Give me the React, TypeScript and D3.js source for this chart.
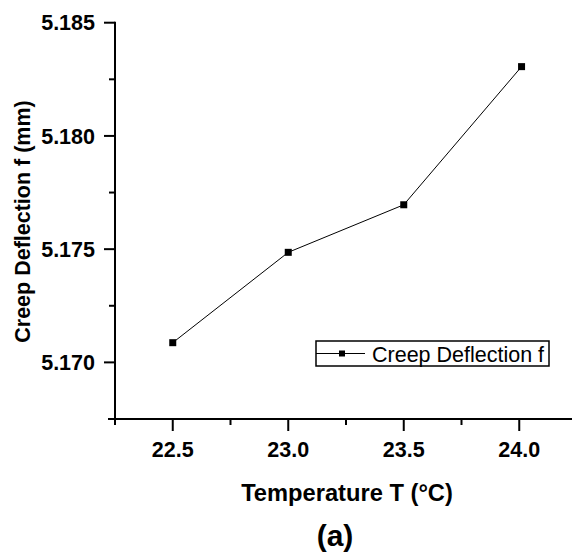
import React from "react";
import * as d3 from "d3";

const temperatures = [22.5, 23.0, 23.5, 24.01];
const deflections = [5.17087, 5.17486, 5.17696, 5.18306];
const xMajorTicks = [22.5, 23.0, 23.5, 24.0];
const xMinorTicks = [22.25, 22.75, 23.25, 23.75];
const yMajorTicks = [5.17, 5.175, 5.18, 5.185];
const yMinorTicks = [5.1725, 5.1775, 5.1825];
const seriesName = "Creep Deflection f";

const W = 572;
const H = 552;
const FONT = "'Liberation Sans', Arial, sans-serif";

export default function App() {
  const x = d3.scaleLinear().domain([22.25, 24.25]).range([115, 577]);
  const y = d3.scaleLinear().domain([5.1675, 5.185]).range([419, 22.7]);
  const line = d3
    .line<number>()
    .x((_, i) => x(temperatures[i]))
    .y((d) => y(d));
  const axisY = 419;
  const axisX = 115;
  const lx = 316;
  const ly = 341;
  return (
    <svg width={W} height={H} style={{ position: "absolute", left: 0, top: 0, background: "#fff" }}>
      <rect width={W} height={H} fill="#fff" />
      {/* y axis */}
      <line x1={axisX} x2={axisX} y1={y(5.185) - 1} y2={axisY + 1} stroke="#000" strokeWidth={2} />
      {yMajorTicks.map((t) => (
        <g key={"ym" + t}>
          <line x1={axisX - 11} x2={axisX} y1={y(t)} y2={y(t)} stroke="#000" strokeWidth={2} />
          <text x={95} y={y(t)} dy="0.36em" textAnchor="end" fontFamily={FONT} fontWeight="bold" fontSize={21.5}>
            {d3.format(".3f")(t)}
          </text>
        </g>
      ))}
      {yMinorTicks.map((t) => (
        <line key={"yn" + t} x1={axisX - 6} x2={axisX} y1={y(t)} y2={y(t)} stroke="#000" strokeWidth={2} />
      ))}
      {/* x axis */}
      <line x1={axisX - 7} x2={W} y1={axisY} y2={axisY} stroke="#000" strokeWidth={2} />
      {xMajorTicks.map((t) => (
        <g key={"xm" + t}>
          <line x1={x(t)} x2={x(t)} y1={axisY} y2={axisY + 12} stroke="#000" strokeWidth={2} />
          <text x={x(t)} y={449} dy="0.36em" textAnchor="middle" fontFamily={FONT} fontWeight="bold" fontSize={21.5}>
            {d3.format(".1f")(t)}
          </text>
        </g>
      ))}
      {xMinorTicks.map((t) => (
        <line key={"xn" + t} x1={x(t)} x2={x(t)} y1={axisY} y2={axisY + 6} stroke="#000" strokeWidth={2} />
      ))}
      {/* titles */}
      <text x={347} y={492} dy="0.36em" textAnchor="middle" fontFamily={FONT} fontWeight="bold" fontSize={23.7}>
        Temperature T (°C)
      </text>
      <text x={335} y={535} dy="0.36em" textAnchor="middle" fontFamily={FONT} fontWeight="bold" fontSize={30}>
        (a)
      </text>
      <text
        transform={`translate(22,221.5) rotate(-90)`}
        dy="0.36em"
        textAnchor="middle"
        fontFamily={FONT}
        fontWeight="bold"
        fontSize={21.5}
      >
        Creep Deflection f (mm)
      </text>
      {/* series */}
      <path d={line(deflections) || ""} fill="none" stroke="#000" strokeWidth={1} />
      {deflections.map((d, i) => (
        <rect key={i} x={x(temperatures[i]) - 3.5} y={y(d) - 3.5} width={7} height={7} fill="#000" />
      ))}
      {/* legend */}
      <rect x={lx} y={ly} width={233} height={25} fill="#fff" stroke="#000" strokeWidth={1.5} />
      <line x1={lx} x2={lx + 49} y1={ly + 12.5} y2={ly + 12.5} stroke="#000" strokeWidth={1} />
      <rect x={lx + 26 - 3} y={ly + 12.5 - 3} width={6} height={6} fill="#000" />
      <text x={lx + 56} y={ly + 13} dy="0.36em" fontFamily={FONT} fontSize={21.5}>
        {seriesName}
      </text>
    </svg>
  );
}
